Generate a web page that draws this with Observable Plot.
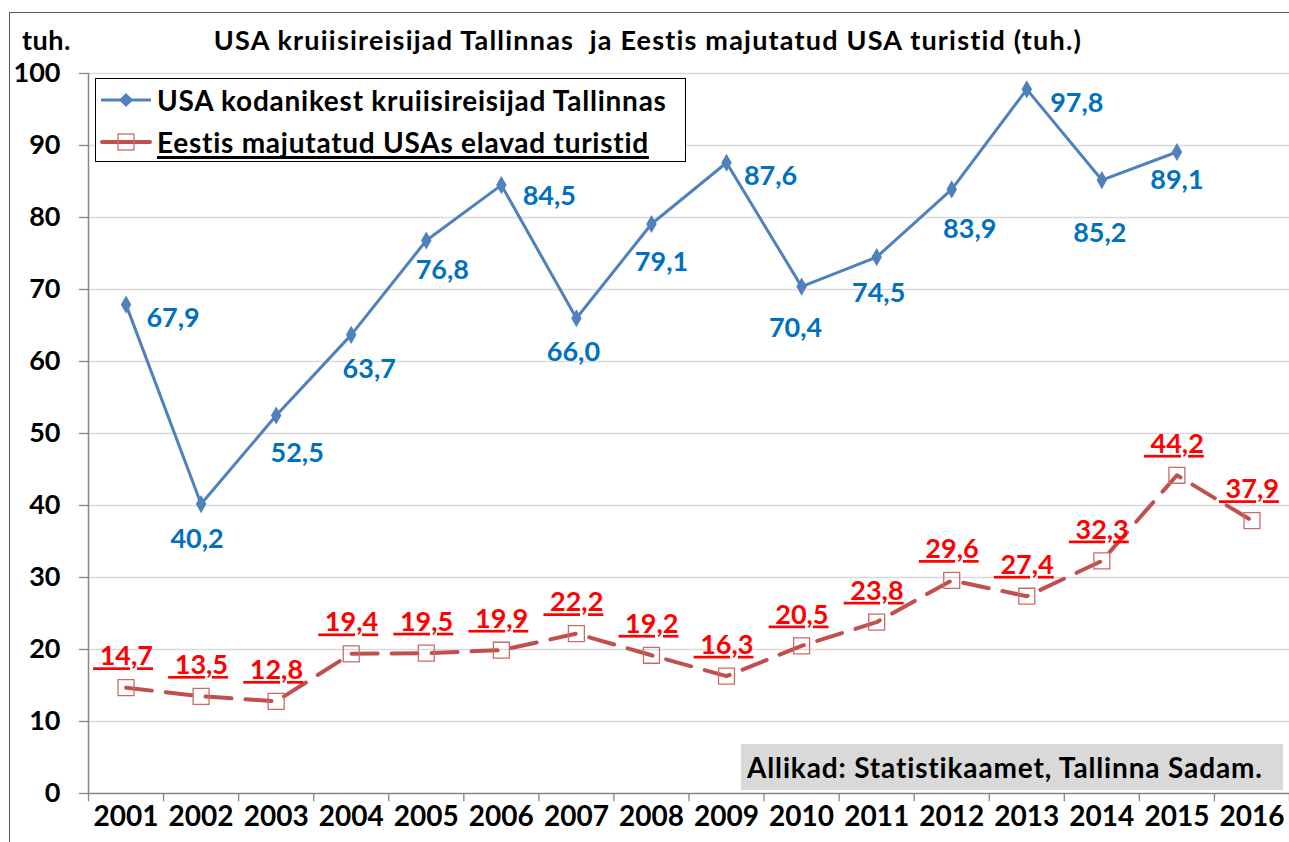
<!DOCTYPE html>
<html><head><meta charset="utf-8">
<script src="https://cdn.jsdelivr.net/npm/d3@7"></script>
<script src="https://cdn.jsdelivr.net/npm/@observablehq/plot@0.6"></script>
<style>
body{margin:0;background:#fff;font-family:Lato,"Open Sans",sans-serif;}
#wrap{position:relative;width:1289px;height:842px;overflow:hidden;background:#fff;}
#chart{position:absolute;left:0;top:0;}
#frame{position:absolute;left:9px;top:12px;width:1400px;height:900px;border:1.5px solid #595959;box-sizing:border-box;pointer-events:none;}
#title{position:absolute;top:23px;left:0;width:1296px;text-align:center;font-weight:700;font-size:27px;letter-spacing:1.2px;line-height:34px;white-space:pre;}
#unit{position:absolute;left:22px;top:23px;font-weight:700;font-size:27px;line-height:34px;letter-spacing:0.5px;}
#legend{position:absolute;left:95px;top:78px;width:591px;height:84px;border:1px solid #000;background:#fff;box-sizing:border-box;}
.lrow{position:absolute;left:0;height:36px;display:flex;align-items:center;font-weight:700;font-size:28px;letter-spacing:0.75px;white-space:nowrap;}
.lrow svg{margin-left:4px;margin-right:5px;}
.u{text-decoration:underline;text-decoration-thickness:3px;text-underline-offset:3px;text-decoration-skip-ink:none;}
#source{position:absolute;left:741px;top:744px;width:542px;height:46px;background:#d9d9d9;font-weight:700;font-size:28px;letter-spacing:0.85px;line-height:46px;padding-left:6px;box-sizing:border-box;white-space:nowrap;}
</style>
</head><body>
<div id="wrap">
  <div id="chart"></div>
  <div id="frame"></div>
  <div id="unit">tuh.</div>
  <div id="title">USA kruiisireisijad Tallinnas  ja Eestis majutatud USA turistid (tuh.)</div>
  <div id="legend">
    <div class="lrow" style="top:3px;">
      <svg width="52" height="20"><line x1="1" y1="10" x2="51" y2="10" stroke="#4f81bd" stroke-width="3"/><path d="M26,3 L33,10 L26,17 L19,10 Z" fill="#4f81bd"/></svg>
      <span>USA kodanikest kruiisireisijad Tallinnas</span>
    </div>
    <div class="lrow" style="top:45px;">
      <svg width="52" height="20"><line x1="2" y1="10" x2="50" y2="10" stroke="#c0504d" stroke-width="4" stroke-linecap="round"/><rect x="18" y="2" width="16" height="16" fill="none" stroke="#c96b68" stroke-width="1.3"/></svg>
      <span class="u">Eestis majutatud USAs elavad turistid</span>
    </div>
  </div>
  <div id="source">Allikad: Statistikaamet, Tallinna Sadam.</div>
</div>
<script>
const years = [2001,2002,2003,2004,2005,2006,2007,2008,2009,2010,2011,2012,2013,2014,2015,2016];
const cruise = [67.9,40.2,52.5,63.7,76.8,84.5,66.0,79.1,87.6,70.4,74.5,83.9,97.8,85.2,89.1];
const tourists = [14.7,13.5,12.8,19.4,19.5,19.9,22.2,19.2,16.3,20.5,23.8,29.6,27.4,32.3,44.2,37.9];
const yTicks = [0,10,20,30,40,50,60,70,80,90,100];
// label nudges (pixels) for the blue series labels
const blueDx = [47,-4,21,18,16,48,-3,10,44,-6,2,18,50,-2,0];
const blueDy = [14,35,38,34,30,11,34,38,14,42,36,40,14,53,28];

const cruiseData = cruise.map((v,i)=>({year:years[i], v}));
const touristData = tourists.map((v,i)=>({year:years[i], v}));
const fmt = v => v.toFixed(1).replace(".", ",");

const chart = Plot.plot({
  width:1289, height:842,
  marginLeft:88, marginRight:0, marginTop:73, marginBottom:49,
  x:{domain:[2000.5,2016.5]},
  y:{domain:[0,100]},
  style:{fontFamily:"Lato, 'Open Sans', sans-serif", fontWeight:700, fontSize:"26px", color:"#000", background:"transparent", overflow:"visible"},
  marks:[
    Plot.gridY(yTicks.filter(d=>d>0), {stroke:"#d9d9d9", strokeOpacity:1, strokeWidth:1.5}),
    Plot.ruleX(years.map(d=>d-0.5).concat([2016.5]), {y1:0, y2:-1.15, stroke:"#868686", strokeWidth:1.3}),
    Plot.ruleY([0], {stroke:"#868686", strokeWidth:1.5}),
    Plot.ruleX([2000.5], {stroke:"#868686", strokeWidth:1.5}),
    Plot.axisY({ticks:yTicks, tickSize:9, tickPadding:19, stroke:"#868686", strokeWidth:1.3, label:null, tickFormat:d=>String(d), fontSize:27, fill:"#000"}),
    Plot.axisX({ticks:years, tickSize:0, tickPadding:13, label:null, tickFormat:d=>String(d), fontSize:28, fill:"#000"}),
    Plot.line(touristData, {x:"year", y:"v", stroke:"#c0504d", strokeWidth:4, strokeDasharray:"26,14", strokeLinecap:"round"}),
    Plot.dot(touristData, {x:"year", y:"v", symbol:"square", r:9, stroke:"#c96b68", strokeWidth:1.3, fill:"none"}),
    Plot.line(cruiseData, {x:"year", y:"v", stroke:"#4f81bd", strokeWidth:3}),
    Plot.dot(cruiseData, {x:"year", y:"v", symbol:"diamond", r:5.5, fill:"#4f81bd", stroke:"none"}),
    ...cruiseData.map((d,i)=>Plot.text([d], {x:"year", y:"v", text:e=>fmt(e.v), dx:blueDx[i], dy:blueDy[i], fill:"#0070c0", fontSize:27, fontWeight:700})),
    Plot.text(touristData, {x:"year", y:"v", text:e=>"\u00a0"+fmt(e.v), dx:-3, dy:-31, fill:"#ff0000", fontSize:27, fontWeight:700, ariaDescription:"redlabels"})
  ]
});
d3.select(chart).selectAll("g[aria-description=redlabels] text")
  .style("text-decoration","underline")
  .style("text-decoration-thickness","3px")
  .style("text-underline-offset","3px")
  .style("text-decoration-skip-ink","none");
document.getElementById("chart").appendChild(chart);
</script>
</body></html>
